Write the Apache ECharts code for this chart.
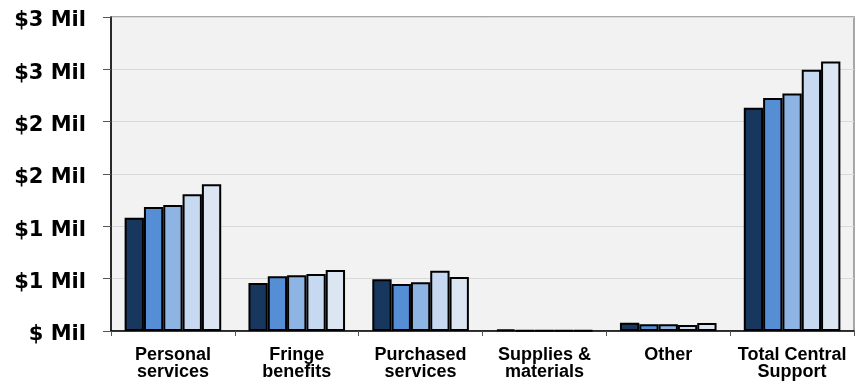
<!DOCTYPE html>
<html>
<head>
<meta charset="utf-8">
<script src="https://cdn.jsdelivr.net/npm/echarts@6/dist/echarts.min.js"></script>
<style>html,body{margin:0;padding:0;background:#fff;}#c{width:862px;height:385px;}</style>
</head>
<body>
<div id="c"></div>
<script>
const categories = ['Personal\nservices', 'Fringe\nbenefits', 'Purchased\nservices', 'Supplies &\nmaterials', 'Other', 'Total Central\nSupport'];
const seriesNames = ['Year 1', 'Year 2', 'Year 3', 'Year 4', 'Year 5'];
const year1 = [1.082, 0.458, 0.494, 0.016, 0.079, 2.133];
const year2 = [1.184, 0.522, 0.449, 0.005, 0.064, 2.225];
const year3 = [1.203, 0.532, 0.465, 0.005, 0.064, 2.270];
const year4 = [1.306, 0.544, 0.576, 0.005, 0.057, 2.496];
const year5 = [1.401, 0.583, 0.516, 0.005, 0.076, 2.576];
const yTicks = [0, 0.5, 1, 1.5, 2, 2.5, 3];

const allData = [year1, year2, year3, year4, year5];
const colors = ['#17375e', '#558ed5', '#8eb4e3', '#c6d9f1', '#dce6f2'];

const chart = echarts.init(document.getElementById('c'));
chart.setOption({
  animation: false,
  grid: {left: 111, right: 8, top: 17, bottom: 54, show: true, backgroundColor: '#f2f2f2', borderColor: '#8c8c8c', borderWidth: 1.5},
  xAxis: {
    type: 'category',
    data: categories,
    axisLine: {lineStyle: {color: '#000', width: 1.5}},
    axisTick: {show: true, length: 5, lineStyle: {color: '#555'}},
    axisLabel: {color: '#000', fontFamily: 'Liberation Sans, Arial, sans-serif', fontWeight: 'bold', fontSize: 18, lineHeight: 17.5, margin: 15, interval: 0}
  },
  yAxis: {
    type: 'value',
    min: yTicks[0],
    max: yTicks[yTicks.length - 1],
    interval: yTicks[1] - yTicks[0],
    axisLine: {show: true, lineStyle: {color: '#000', width: 1.5}},
    axisTick: {show: true, length: 8, lineStyle: {color: '#555'}},
    splitLine: {lineStyle: {color: '#d9d9d9', width: 1}},
    axisLabel: {
      margin: 25,
      formatter: v => '{a|' + (v === 0 ? '$ Mil' : '$' + Math.round(v) + ' Mil') + '}',
      rich: {
        a: {color: '#000', fontFamily: 'DejaVu Sans, sans-serif', fontWeight: 'bold', fontSize: 21, padding: [8, 0, 0, 0]}
      }
    }
  },
  series: seriesNames.map((n, i) => ({
    name: n,
    type: 'bar',
    data: allData[i],
    barGap: '0%',
    barCategoryGap: '22%',
    itemStyle: {color: colors[i], borderColor: '#000', borderWidth: 2}
  }))
});
</script>
</body>
</html>
